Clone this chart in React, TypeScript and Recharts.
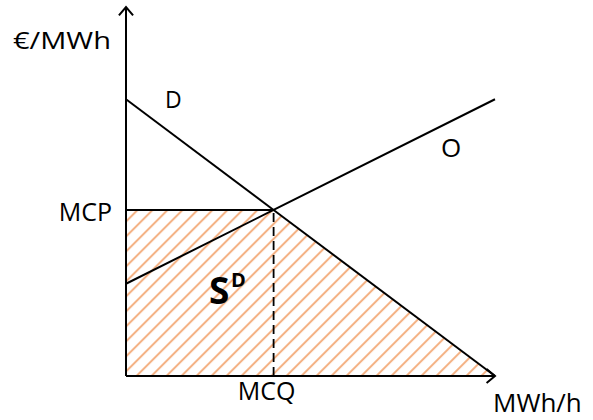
import React from 'react';
import { ComposedChart, Line, Area, XAxis, YAxis, ReferenceLine } from 'recharts';

// quantity (MWh/h) points on a 0..100 scale
const quantities = [0, 40, 100];
const demandPrices = [75, 45, 0];
const supplyPrices = [25, 45, 75];
const surplusTop = [45, 45, 0];

const MCQ = 40;
const MCP = 45;
const AXIS_MAX = 100;

const chartData = quantities.map((q, i) => ({
  q,
  demand: demandPrices[i],
  supply: supplyPrices[i],
  surplus: surplusTop[i],
}));

const FONT = '"Open Sans", sans-serif';

const ArrowLine = (props: any) => {
  const { x1, y1, x2, y2 } = props;
  const ang = Math.atan2(y2 - y1, x2 - x1);
  const len = 11;
  const spread = Math.PI / 4.5;
  const ax = x2 - len * Math.cos(ang - spread);
  const ay = y2 - len * Math.sin(ang - spread);
  const bx = x2 - len * Math.cos(ang + spread);
  const by = y2 - len * Math.sin(ang + spread);
  return (
    <g>
      <line x1={x1} y1={y1} x2={x2} y2={y2} stroke="#000" strokeWidth={2} />
      <polyline points={`${ax},${ay} ${x2},${y2} ${bx},${by}`} fill="none" stroke="#000" strokeWidth={2} />
    </g>
  );
};

const App = () => {
  return (
    <div style={{ position: 'absolute', left: 0, top: 0, width: 593, height: 420, background: '#fff' }}>
      <ComposedChart
        width={593}
        height={420}
        data={chartData}
        margin={{ top: 7, right: 98, bottom: 0, left: 66 }}
      >
        <defs>
          <pattern id="hatch" patternUnits="userSpaceOnUse" width={10.6} height={10} patternTransform="rotate(45)">
            <line x1={2} y1={0} x2={2} y2={10} stroke="#F4B183" strokeWidth={2} />
          </pattern>
        </defs>
        <XAxis
          type="number"
          dataKey="q"
          domain={[0, AXIS_MAX]}
          ticks={[MCQ]}
          tickFormatter={() => 'MCQ'}
          axisLine={false}
          tickLine={false}
          height={44}
          tick={{ fill: '#000', fontSize: 25, fontFamily: FONT, dx: -7 }}
          tickMargin={0}
        />
        <YAxis
          type="number"
          domain={[0, AXIS_MAX]}
          ticks={[MCP]}
          tickFormatter={() => 'MCP'}
          axisLine={false}
          tickLine={false}
          width={60}
          tickMargin={8}
          tick={{ fill: '#000', fontSize: 25, fontFamily: FONT, dy: 2 }}
        />
        <Area
          type="linear"
          dataKey="surplus"
          stroke="none"
          fill="url(#hatch)"
          fillOpacity={1}
          isAnimationActive={false}
        />
        <ReferenceLine segment={[{ x: 0, y: MCP }, { x: MCQ, y: MCP }]} stroke="#000" strokeWidth={2} />
        <ReferenceLine
          segment={[{ x: MCQ, y: 0 }, { x: MCQ, y: MCP }]}
          stroke="#000"
          strokeWidth={1.8}
          strokeDasharray="9 5"
        />
        <Line type="linear" dataKey="demand" stroke="#000" strokeWidth={2} dot={false} isAnimationActive={false} />
        <Line type="linear" dataKey="supply" stroke="#000" strokeWidth={2} dot={false} isAnimationActive={false} />
        <ReferenceLine segment={[{ x: 0, y: 0 }, { x: AXIS_MAX, y: 0 }]} shape={ArrowLine} ifOverflow="visible" />
        <ReferenceLine segment={[{ x: 0, y: 0 }, { x: 0, y: AXIS_MAX }]} shape={ArrowLine} ifOverflow="visible" />
      </ComposedChart>
      <svg
        width={593}
        height={420}
        style={{ position: 'absolute', left: 0, top: 0, pointerEvents: 'none' }}
        fontFamily={FONT}
      >
        <text x={13} y={49} fontSize={24} textLength={98} lengthAdjust="spacingAndGlyphs">€/MWh</text>
        <text x={165} y={108} fontSize={23}>D</text>
        <text x={441} y={157} fontSize={26}>O</text>
        <text x={493} y={412} fontSize={26}>MWh/h</text>
        <text x={209} y={304} fontSize={37} fontWeight="bold">S</text>
        <text x={231} y={287} fontSize={20} fontWeight="bold">D</text>
      </svg>
    </div>
  );
};

export default App;
